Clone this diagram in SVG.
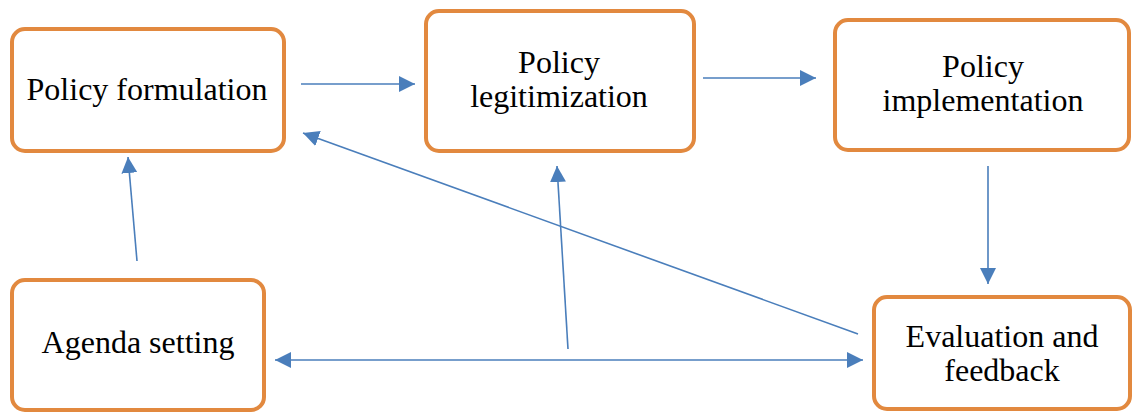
<svg xmlns="http://www.w3.org/2000/svg" width="1133" height="412" viewBox="0 0 1133 412">
<style>
.box{fill:#fff;stroke:#E2893F;stroke-width:4}
.t{font-family:'Liberation Serif','Times New Roman',serif;font-size:32px;fill:#000;text-anchor:middle}
.c{stroke:#4A7EBB;stroke-width:1.6;fill:none}
</style>
<defs>
<marker id="ah2" viewBox="0 0 10 10" refX="10" refY="5" markerWidth="16" markerHeight="16" markerUnits="userSpaceOnUse" orient="auto-start-reverse">
<path d="M0,0 L10,5 L0,10 z" fill="#4A7EBB"/>
</marker>
</defs>
<g id="formulation">
<rect class="box" x="12" y="29" width="272" height="122" rx="13"/>
<text class="t" x="147" y="100">Policy formulation</text>
</g>
<g id="legitimization">
<rect class="box" x="426" y="11" width="268" height="140" rx="13"/>
<text class="t" x="559" y="73">Policy</text>
<text class="t" x="559" y="107">legitimization</text>
</g>
<g id="implementation">
<rect class="box" x="835" y="20" width="294" height="130" rx="13"/>
<text class="t" x="983" y="77">Policy</text>
<text class="t" x="983" y="111">implementation</text>
</g>
<g id="agenda">
<rect class="box" x="12" y="280" width="252" height="130" rx="13"/>
<text class="t" x="138" y="353">Agenda setting</text>
</g>
<g id="evaluation">
<rect class="box" x="874" y="297" width="256" height="112" rx="13"/>
<text class="t" x="1002" y="347">Evaluation and</text>
<text class="t" x="1002" y="381">feedback</text>
</g>
<g id="connectors">
<line class="c" x1="301" y1="84" x2="415" y2="84" marker-end="url(#ah2)"/>
<line class="c" x1="703" y1="78" x2="816" y2="78" marker-end="url(#ah2)"/>
<line class="c" x1="988" y1="166" x2="988" y2="284" marker-end="url(#ah2)"/>
<line class="c" x1="137" y1="261" x2="128" y2="157" marker-end="url(#ah2)"/>
<line class="c" x1="858" y1="334" x2="303" y2="133" marker-end="url(#ah2)"/>
<line class="c" x1="275" y1="360" x2="863" y2="360" marker-start="url(#ah2)" marker-end="url(#ah2)"/>
<line class="c" x1="568" y1="349" x2="557" y2="166" marker-end="url(#ah2)"/>
</g>
</svg>
